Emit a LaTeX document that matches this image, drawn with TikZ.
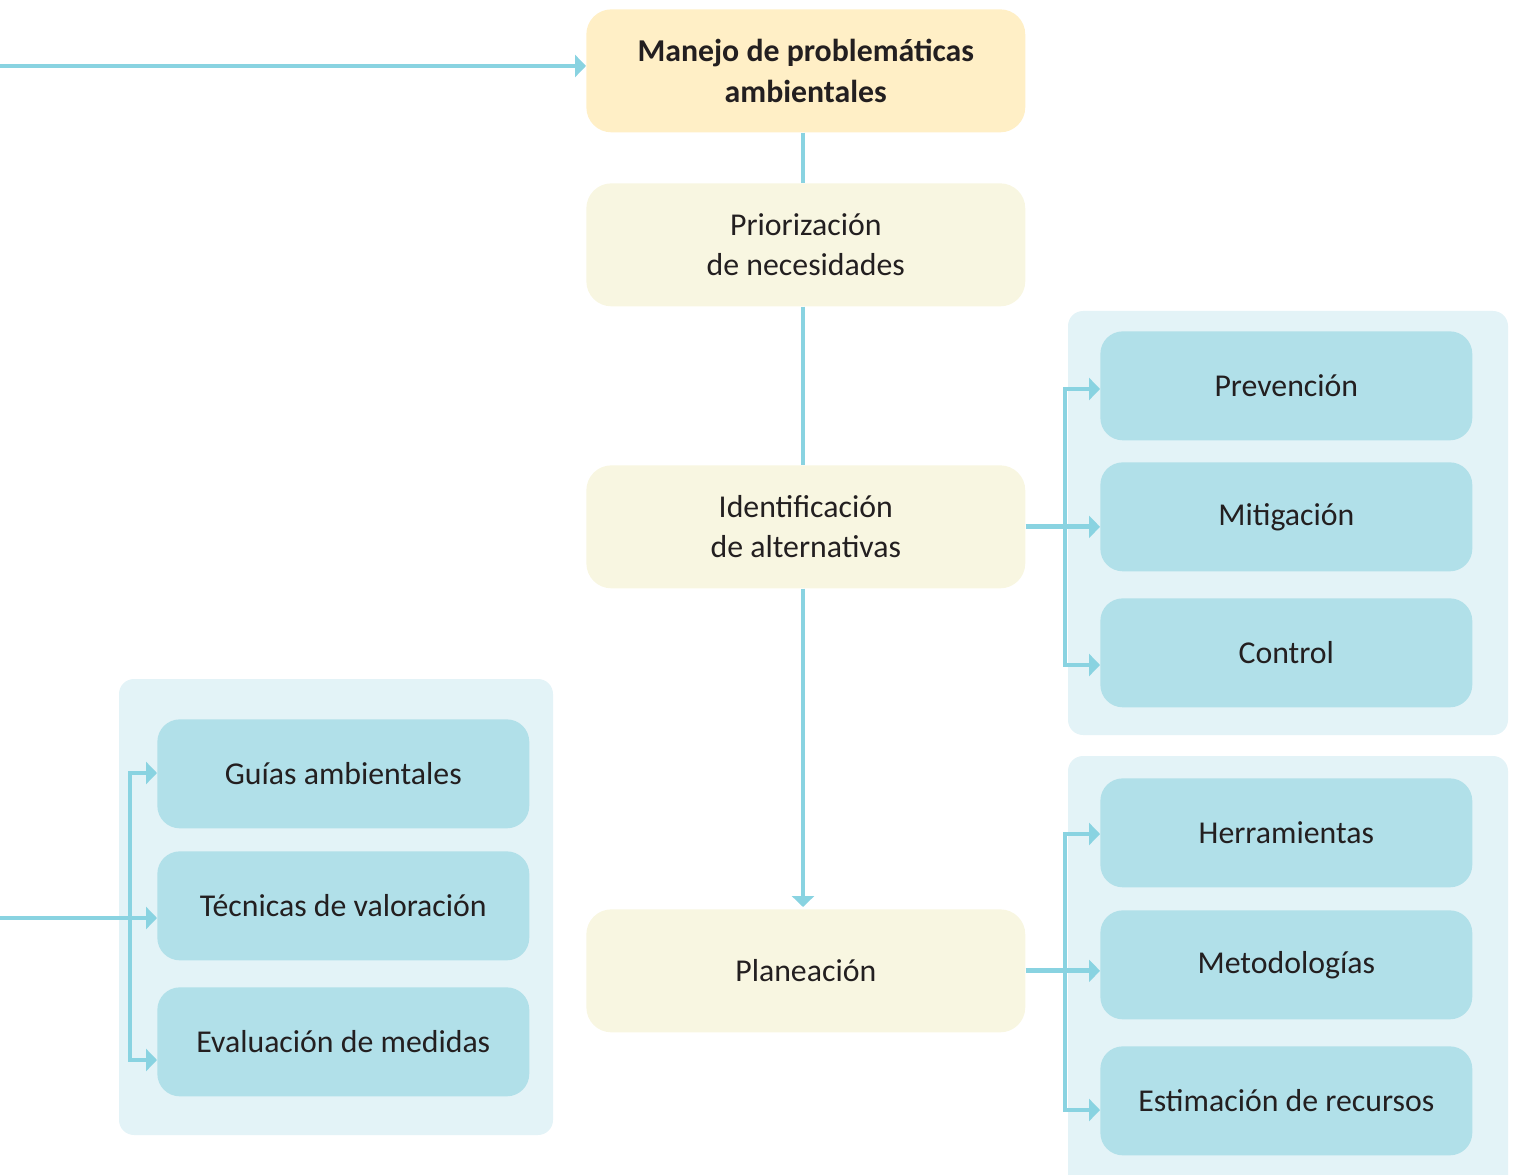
\documentclass[tikz,border=0pt]{standalone}
\usepackage{fontspec}
\setmainfont{Carlito}
\usetikzlibrary{positioning,arrows.meta}
\definecolor{lnblue}{HTML}{89D3E1}
\definecolor{boxblue}{HTML}{B1E0E9}
\definecolor{grpblue}{HTML}{E3F3F7}
\definecolor{hdorange}{HTML}{FFEFC6}
\definecolor{stcream}{HTML}{F8F6E1}
\definecolor{txtdark}{HTML}{231F20}
\tikzset{
  stage/.style={fill=stcream,rounded corners=0.5cm,minimum width=8.78cm,minimum height=2.46cm,
    inner sep=0pt,align=center,anchor=north west,text=txtdark},
  item/.style={fill=boxblue,rounded corners=0.45cm,minimum width=7.44cm,minimum height=2.18cm,
    inner sep=0pt,anchor=north west,text=txtdark},
  grp/.style={fill=grpblue,rounded corners=0.3cm},
  wire/.style={draw=lnblue,line width=2.8pt},
  conn/.style={wire,-{Triangle[length=0.22cm,width=0.44cm]}},
}

\begin{document}
\begin{tikzpicture}[x=0.02cm,y=-0.02cm,font=\fontsize{18.1}{23}\selectfont]
  \useasboundingbox (0,0) rectangle (1520,1175);
  % group backgrounds
  \fill[grp] (1068,311) rectangle (1508,735);
  \fill[grp] (1068,756) rectangle (1508,1195);
  \fill[grp] (119,679) rectangle (553,1135);
  % main column
  \node[stage,fill=hdorange,font=\fontsize{18.1}{23}\selectfont\bfseries] (top) at (586,9) {Manejo de problemáticas\\ambientales};
  \node[stage] (prio) at (586,183) {Priorización\\de necesidades};
  \node[stage] (ident) at (586,465) {Identificación\\de alternativas};
  \node[stage] (plan) at (586,909) {Planeación};
  % alternatives
  \node[item] (prev) at (1100,331) {Prevención};
  \node[item] (mitig) at (1100,462) {Mitigación};
  \node[item] (ctrl) at (1100,598) {Control};
  % planning tools
  \node[item] (herr) at (1100,778) {Herramientas};
  \node[item] (metod) at (1100,910) {Metodologías};
  \node[item] (estim) at (1100,1046) {Estimación de recursos};
  % measures on the left
  \node[item] (guias) at (157,719) {Guías ambientales};
  \node[item] (tecn) at (157,851) {Técnicas de valoración};
  \node[item] (eval) at (157,987) {Evaluación de medidas};
  % junction points
  \coordinate (spine) at (803,0);
  \coordinate (lin) at (0,66);
  \coordinate (ja) at (1065,389);
  \coordinate (jb) at (1065,665);
  \coordinate (jc) at (1065,834);
  \coordinate (jd) at (1065,1110);
  \coordinate (lft) at (0,918);
  \coordinate (je) at (130,773);
  \coordinate (jf) at (130,1060);
  % spine
  \draw[conn] (lin) -- (top.west |- lin);
  \draw[wire] (top.south -| spine) -- (prio.north -| spine);
  \draw[wire] (prio.south -| spine) -- (ident.north -| spine);
  \draw[conn] (ident.south -| spine) -- ([yshift=0.04cm]plan.north -| spine);
  % branches right
  \draw[conn] (ident.east) -- (mitig.west |- ident.east);
  \draw[conn] (jb) -- (ja) -- (prev.west |- ja);
  \draw[conn] (ja) -- (jb) -- (ctrl.west |- jb);
  \draw[conn] (plan.east) -- (metod.west |- plan.east);
  \draw[conn] (jd) -- (jc) -- (herr.west |- jc);
  \draw[conn] (jc) -- (jd) -- (estim.west |- jd);
  % branches left
  \draw[conn] (lft) -- (tecn.west |- lft);
  \draw[conn] (jf) -- (je) -- (guias.west |- je);
  \draw[conn] (je) -- (jf) -- (eval.west |- jf);
\end{tikzpicture}
\end{document}
